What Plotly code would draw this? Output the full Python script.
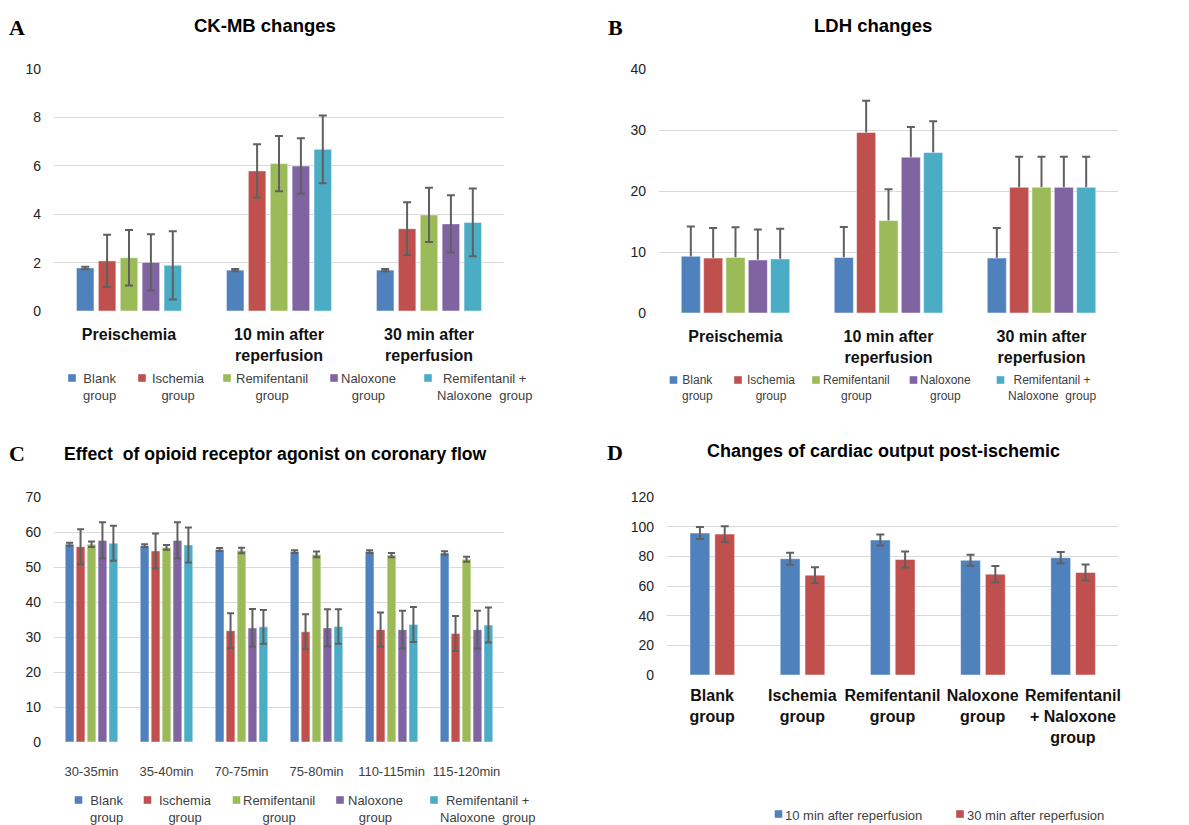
import plotly.graph_objects as go

# The page body has an 8px default margin, so the figure is drawn 8px in from the window edge.
OFF = 8
W, H = 1189 - OFF, 825 - OFF
FONT = "Liberation Sans, Arial, sans-serif"
SERIF = "Liberation Serif, Times New Roman, serif"

# ---------------- data ----------------
group_names = ["Blank group", "Ischemia group", "Remifentanil group",
               "Naloxone group", "Remifentanil + Naloxone group"]
legend_labels = ["Blank<br>group", "Ischemia<br>group", "Remifentanil<br>group",
                 "Naloxone<br>group", "Remifentanil +<br>Naloxone\u00a0\u00a0group"]
group_colors = ["#4F81BD", "#C0504D", "#9BBB59", "#8064A2", "#4BACC6"]

ab_categories = ["Preischemia", "10 min after<br>reperfusion", "30 min after<br>reperfusion"]

# Panel A: CK-MB (mean, +/- error) per group across ab_categories
ckmb_blank = [1.78, 1.69, 1.69]
ckmb_ischemia = [2.07, 5.79, 3.40]
ckmb_remifentanil = [2.20, 6.09, 3.97]
ckmb_naloxone = [2.01, 5.99, 3.60]
ckmb_remi_nalox = [1.89, 6.68, 3.66]
ckmb_err_blank = [0.05, 0.05, 0.05]
ckmb_err_ischemia = [1.08, 1.10, 1.09]
ckmb_err_remifentanil = [1.15, 1.14, 1.12]
ckmb_err_naloxone = [1.16, 1.15, 1.18]
ckmb_err_remi_nalox = [1.41, 1.40, 1.40]

# Panel B: LDH (mean, + error)
ldh_blank = [9.3, 9.1, 9.0]
ldh_ischemia = [9.0, 29.6, 20.6]
ldh_remifentanil = [9.1, 15.15, 20.6]
ldh_naloxone = [8.7, 25.55, 20.6]
ldh_remi_nalox = [8.86, 26.3, 20.6]
ldh_err_blank = [4.9, 5.0, 4.95]
ldh_err_ischemia = [4.95, 5.2, 5.0]
ldh_err_remifentanil = [4.95, 5.15, 5.0]
ldh_err_naloxone = [5.0, 4.95, 5.0]
ldh_err_remi_nalox = [4.95, 5.15, 5.0]

# Panel C: coronary flow
flow_categories = ["30-35min", "35-40min", "70-75min", "75-80min", "110-115min", "115-120min"]
flow_blank = [56.5, 56.1, 55.0, 54.4, 54.4, 54.0]
flow_ischemia = [55.8, 54.6, 31.8, 31.5, 32.1, 31.0]
flow_remifentanil = [56.5, 55.6, 54.7, 53.6, 53.4, 52.2]
flow_naloxone = [57.6, 57.6, 32.6, 32.6, 32.1, 32.1]
flow_remi_nalox = [56.8, 56.3, 32.9, 33.0, 33.6, 33.4]
flow_err_blank = [0.4, 0.4, 0.4, 0.4, 0.4, 0.5]
flow_err_ischemia = [5.0, 5.0, 5.0, 5.0, 4.9, 5.0]
flow_err_remifentanil = [0.8, 0.7, 0.8, 0.8, 0.6, 0.7]
flow_err_naloxone = [5.2, 5.2, 5.4, 5.3, 5.4, 5.4]
flow_err_remi_nalox = [5.0, 5.0, 4.8, 4.9, 5.0, 5.0]

# Panel D: cardiac output
co_categories = ["Blank<br>group", "Ischemia<br>group", "Remifentanil<br>group",
                 "Naloxone<br>group", "Remifentanil<br>+ Naloxone<br>group"]
co_series = ["10 min after reperfusion", "30 min after reperfusion"]
co_10min = [95.7, 78.4, 91.0, 77.3, 79.1]
co_30min = [95.0, 67.3, 77.9, 68.0, 69.1]
co_err_10min = [4.0, 4.0, 3.7, 3.7, 3.8]
co_err_30min = [5.3, 5.3, 5.4, 5.4, 5.4]

ckmb = [ckmb_blank, ckmb_ischemia, ckmb_remifentanil, ckmb_naloxone, ckmb_remi_nalox]
ckmb_err = [ckmb_err_blank, ckmb_err_ischemia, ckmb_err_remifentanil, ckmb_err_naloxone, ckmb_err_remi_nalox]
ldh = [ldh_blank, ldh_ischemia, ldh_remifentanil, ldh_naloxone, ldh_remi_nalox]
ldh_err = [ldh_err_blank, ldh_err_ischemia, ldh_err_remifentanil, ldh_err_naloxone, ldh_err_remi_nalox]
flow = [flow_blank, flow_ischemia, flow_remifentanil, flow_naloxone, flow_remi_nalox]
flow_err = [flow_err_blank, flow_err_ischemia, flow_err_remifentanil, flow_err_naloxone, flow_err_remi_nalox]

ERR_COLOR = "#606060"
GRID = "#D9D9D9"
LEG_TEXT = "#404040"
EDGE = dict(color="rgba(255,255,255,0.6)", width=0.8)


def px_x(p):
    return (p - OFF) / W


def px_y(p):
    return 1 - (p - OFF) / H


fig = go.Figure()
shapes = []
annotations = []


def err_dict(arr, w, minus=None):
    d = dict(type="data", array=arr, color=ERR_COLOR, thickness=2, width=w, visible=True)
    if minus is not None:
        d.update(symmetric=False, arrayminus=minus)
    return d


# Panel A
for i in range(5):
    fig.add_trace(go.Bar(x=ab_categories, y=ckmb[i], name=group_names[i],
                         marker=dict(color=group_colors[i], line=EDGE),
                         error_y=err_dict(ckmb_err[i], 4), xaxis="x", yaxis="y",
                         showlegend=False, hoverinfo="skip"))

# Panel B: upward-only error bars sit under the bars (base axes), bars drawn on overlay axes
for i in range(5):
    fig.add_trace(go.Bar(x=ab_categories, y=ldh[i], name=group_names[i] + " error",
                         marker=dict(color="rgba(0,0,0,0)", line=dict(width=0)), width=0.125,
                         error_y=err_dict(ldh_err[i], 4, [0.3] * len(ldh_err[i])),
                         xaxis="x2", yaxis="y2", showlegend=False, hoverinfo="skip"))
for i in range(5):
    fig.add_trace(go.Bar(x=ab_categories, y=ldh[i], name=group_names[i],
                         marker=dict(color=group_colors[i], line=EDGE), width=0.125,
                         xaxis="x5", yaxis="y5", showlegend=False, hoverinfo="skip"))

# Panel C
for i in range(5):
    fig.add_trace(go.Bar(x=flow_categories, y=flow[i], name=group_names[i],
                         marker=dict(color=group_colors[i], line=EDGE),
                         error_y=err_dict(flow_err[i], 3.5), xaxis="x3", yaxis="y3",
                         showlegend=False, hoverinfo="skip"))

# Panel D
co_vals = [co_10min, co_30min]
co_errs = [co_err_10min, co_err_30min]
co_offsets = [-0.245, 0.03]
for i in range(2):
    fig.add_trace(go.Bar(x=co_categories, y=co_vals[i], name=co_series[i],
                         marker=dict(color=group_colors[i], line=EDGE),
                         width=0.22, offset=co_offsets[i],
                         error_y=err_dict(co_errs[i], 4),
                         xaxis="x4", yaxis="y4", showlegend=False, hoverinfo="skip"))


# ---------------- custom legends (symbol squares + centred labels) ----------------
def legend_block(labels, colors, sym_x, sym_y, text_x, text_y, size):
    for lab, col, sx, tx in zip(labels, colors, sym_x, text_x):
        shapes.append(dict(type="rect", xref="paper", yref="paper",
                           x0=px_x(sx - 3.8), x1=px_x(sx + 3.8), y0=px_y(sym_y + 3.8), y1=px_y(sym_y - 3.8),
                           fillcolor=col, line=dict(width=0)))
        annotations.append(dict(text=lab, x=px_x(tx), y=px_y(text_y), xref="paper", yref="paper",
                                xanchor="center", yanchor="top", align="center", showarrow=False,
                                font=dict(family=FONT, size=size, color=LEG_TEXT)))


legend_block(legend_labels, group_colors, [72, 142, 227, 334, 428], 378,
             [99, 178, 272, 368, 485], 369, 13)
legend_block(legend_labels, group_colors, [673.5, 738, 816, 913.5, 1000.5], 380,
             [698, 770.5, 856, 945, 1052], 371.5, 12)
legend_block(legend_labels, group_colors, [78.5, 147.5, 236.5, 340, 434], 800,
             [106, 185, 279, 375, 487], 791, 13)
legend_block(co_series, group_colors[:2], [778.5, 960], 814, [854, 1035], 805.5, 13)


def xaxis(dom, anchor, font_size, bold, standoff):
    return dict(domain=[px_x(dom[0]), px_x(dom[1])], anchor=anchor, type="category",
                showgrid=False, showline=False, zeroline=False, ticks="", automargin=False,
                tickfont=dict(family=FONT, size=font_size, color="#111111" if bold else "#404040",
                              weight="bold" if bold else "normal"),
                ticklabelstandoff=standoff, fixedrange=True)


def yaxis(dom, anchor, rng, dtick):
    return dict(domain=[px_y(dom[1]), px_y(dom[0])], anchor=anchor, range=rng, dtick=dtick,
                showgrid=True, gridcolor=GRID, gridwidth=1.3, zeroline=False, showline=False, ticks="",
                automargin=False,
                tickfont=dict(family=FONT, size=14, color="#222222"), ticklabelstandoff=12, fixedrange=True)


title_font = dict(family=FONT, size=18.5, color="#000000", weight="bold")
letter_font = dict(family=SERIF, size=22, color="#000000", weight="bold")
for txt, x, y, sz in [("CK-MB changes", 265, 25, 18.5), ("LDH changes", 873, 25, 18.5),
                      ("Effect  of opioid receptor agonist on coronary flow", 275, 454, 17.6),
                      ("Changes of cardiac output post-ischemic", 883, 451, 18)]:
    f = dict(title_font)
    f["size"] = sz
    annotations.append(dict(text=txt, x=px_x(x), y=px_y(y), xref="paper", yref="paper",
                            xanchor="center", yanchor="middle", showarrow=False, font=f))
for txt, x, y in [("A", 17, 28), ("B", 615, 28), ("C", 17, 453), ("D", 615, 452)]:
    annotations.append(dict(text=txt, x=px_x(x), y=px_y(y), xref="paper", yref="paper",
                            xanchor="center", yanchor="middle", showarrow=False, font=letter_font))

xb = xaxis((659, 1118), "y2", 16, True, 12)
yb = yaxis((69, 313), "x2", [0, 40], 10)
xb_over = dict(xb, overlaying="x2", anchor="y5", showticklabels=False)
yb_over = dict(yb, overlaying="y2", anchor="x5", showticklabels=False, showgrid=False)

fig.update_layout(
    width=W, height=H, margin=dict(l=0, r=0, t=0, b=0, autoexpand=False),
    paper_bgcolor="white", plot_bgcolor="white",
    barmode="group", bargap=0.27, bargroupgap=0.2,
    font=dict(family=FONT),
    showlegend=False,
    xaxis=xaxis((54, 504), "y", 16, True, 12),
    yaxis=yaxis((69, 311), "x", [0, 10], 2),
    xaxis2=xb,
    yaxis2=yb,
    xaxis5=xb_over,
    yaxis5=yb_over,
    xaxis3=xaxis((54, 504), "y3", 13, False, 20),
    yaxis3=yaxis((497, 742), "x3", [0, 70], 10),
    xaxis4=xaxis((667, 1118), "y4", 16, True, 9),
    yaxis4=yaxis((497, 675), "x4", [0, 120], 20),
    shapes=shapes,
    annotations=annotations,
)

fig.write_html("out.html")
